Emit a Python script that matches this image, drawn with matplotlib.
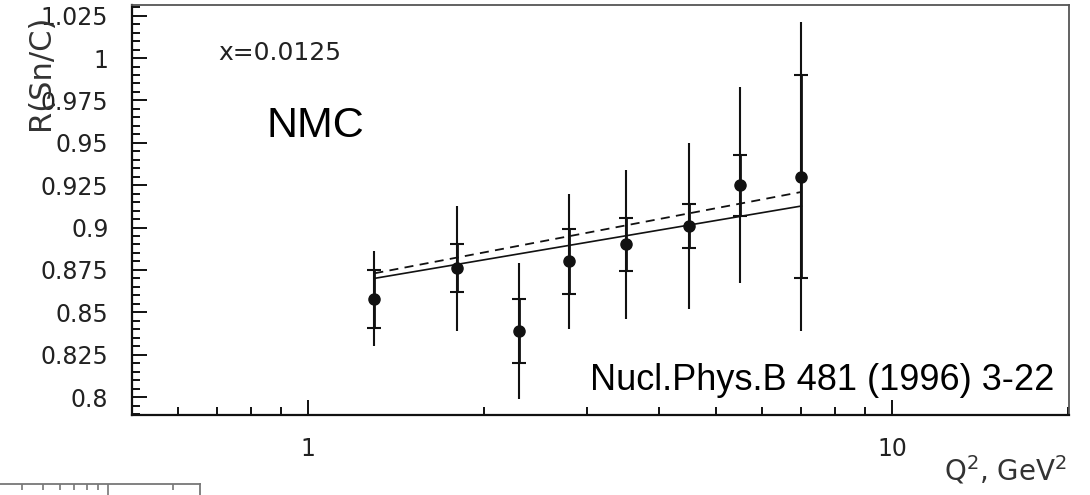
import matplotlib
matplotlib.use("Agg")
import matplotlib.pyplot as plt
from matplotlib.ticker import FixedLocator, FuncFormatter, LogLocator, NullFormatter, MultipleLocator

plt.rcParams["mathtext.default"] = "regular"

# Sn/C structure function ratio, NMC, x = 0.0125
q2 = [1.3, 1.8, 2.3, 2.8, 3.5, 4.5, 5.5, 7.0]
ratio = [0.858, 0.876, 0.839, 0.880, 0.890, 0.901, 0.925, 0.930]
stat_err = [0.017, 0.014, 0.019, 0.019, 0.0155, 0.013, 0.018, 0.060]
total_err = [0.028, 0.037, 0.040, 0.040, 0.044, 0.049, 0.058, 0.091]

# fitted lines (log-linear in Q^2)
fit_q2 = [1.3, 7.0]
fit_solid = [0.870, 0.9127]
fit_dashed = [0.873, 0.921]

y_ticks = [0.8, 0.825, 0.85, 0.875, 0.9, 0.925, 0.95, 0.975, 1.0, 1.025]

ink = "#111111"

fig = plt.figure(figsize=(10.9, 4.95), dpi=100)
ax = fig.add_axes([132 / 1090, 80 / 495, 937 / 1090, 410 / 495])

ax.errorbar(q2, ratio, yerr=total_err, fmt="none", ecolor=ink, elinewidth=1.5, capsize=0)
ax.errorbar(q2, ratio, yerr=stat_err, fmt="o", color=ink, ms=8, ecolor=ink,
            elinewidth=2.0, capsize=5, capthick=1.5)
ax.plot(fit_q2, fit_solid, color=ink, lw=1.2)
ax.plot(fit_q2, fit_dashed, color=ink, lw=1.3, ls=(0, (5, 3.5)))

ax.set_xscale("log")
ax.set_xlim(0.5, 20.1)
ax.set_ylim(0.7894, 1.0313)

ax.xaxis.set_major_locator(FixedLocator([1, 10]))
ax.xaxis.set_major_formatter(FuncFormatter(lambda v, p: "%g" % v))
ax.xaxis.set_minor_locator(LogLocator(base=10, subs=range(2, 10)))
ax.xaxis.set_minor_formatter(NullFormatter())
ax.yaxis.set_major_locator(FixedLocator(y_ticks))
ax.yaxis.set_major_formatter(FuncFormatter(lambda v, p: "%g" % v))
ax.yaxis.set_minor_locator(MultipleLocator(0.005))

ax.tick_params(which="both", direction="in", color=ink, width=1.4,
               top=False, right=False, labelsize=17, labelcolor="#222222")
ax.tick_params(axis="y", which="major", length=11, pad=17)
ax.tick_params(axis="x", which="major", length=11, pad=16)
ax.tick_params(which="minor", length=6)

for side in ["left", "bottom"]:
    ax.spines[side].set_linewidth(1.6)
    ax.spines[side].set_color(ink)
for side in ["top", "right"]:
    ax.spines[side].set_linewidth(1.3)
    ax.spines[side].set_color("#555555")

ax.text(218 / 1090, 1 - 53 / 495, "x=0.0125", transform=fig.transFigure,
        fontsize=18, color="#222222", ha="left", va="center")
ax.text(267 / 1090, 1 - 126 / 495, "NMC", transform=fig.transFigure,
        family="Liberation Sans", fontsize=31, color="black", ha="left", va="center")
ax.text(1054 / 1090, 1 - 381 / 495, "Nucl.Phys.B 481 (1996) 3-22", transform=fig.transFigure,
        family="Liberation Sans", fontsize=26, color="black", ha="right", va="center")

# axis titles sit over the tick labels, as in the original scan
fig.text(40 / 1090, 1 - 72 / 495, "R(Sn/C)", rotation=90, fontsize=22,
         color="#333333", ha="center", va="center")
fig.text(1067 / 1090, 1 - 470 / 495, "Q$^{2}$, GeV$^{2}$", fontsize=20,
         color="#333333", ha="right", va="center")

# edge of the neighbouring panel below
ax2 = fig.add_axes([0, -0.2, 200 / 1090, 0.2 + 11 / 495])
ax2.set_xscale("log")
ax2.set_xlim(0.318, 2.65)
ax2.set_ylim(0, 1)
ax2.patch.set_alpha(0)
for side in ["left", "bottom"]:
    ax2.spines[side].set_visible(False)
for side in ["top", "right"]:
    ax2.spines[side].set_color("#777777")
    ax2.spines[side].set_linewidth(1.3)
ax2.xaxis.set_major_locator(FixedLocator([1]))
ax2.xaxis.set_minor_locator(LogLocator(base=10, subs=range(2, 10)))
ax2.tick_params(which="both", direction="in", top=True, bottom=False, left=False,
                right=False, labelbottom=False, labelleft=False, color="#777777", width=1.2)
ax2.tick_params(which="major", length=8)
ax2.tick_params(which="minor", length=4)
ax2.set_yticks([])

fig.savefig("out.png", dpi=100)
